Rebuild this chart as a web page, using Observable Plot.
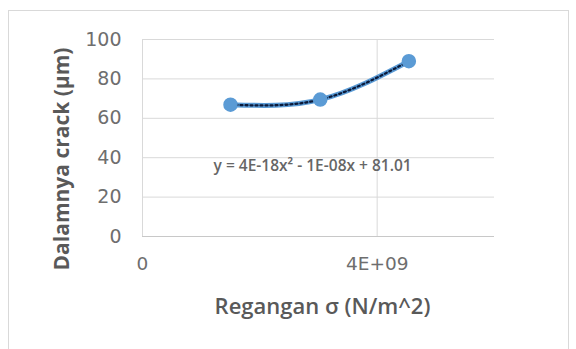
<!DOCTYPE html>
<html><head>
<meta charset="utf-8">
<script src="https://cdn.jsdelivr.net/npm/d3@7"></script>
<script src="https://cdn.jsdelivr.net/npm/@observablehq/plot@0.6"></script>
<style>
body{margin:0;background:#fff;}
#wrap{position:relative;width:576px;height:349px;overflow:hidden;background:#fff;}
#border{position:absolute;left:8px;top:10px;width:561px;height:400px;border:1px solid #d9d9d9;box-sizing:border-box;pointer-events:none;}
svg{position:absolute;left:0;top:0;}
</style></head><body><div id="wrap"><div id="border"></div></div>
<script>
const stress = [1.5e9, 3.03e9, 4.54e9];
const depth = [66.9, 69.5, 89.0];
const yTicks = [0, 20, 40, 60, 80, 100];
const xTicks = [0, 4e9];
const xTickLabels = ["0", "4E+09"];
const equation = "y = 4E-18x\u00B2 - 1E-08x + 81.01";
const equationPos = {x: 2.9e9, y: 36};
const xLabel = "Regangan \u03C3 (N/m^2)";
const yLabel = "Dalamnya crack (\u00B5m)";

const data = stress.map((x, i) => ({x, y: depth[i]}));
const gray = "#595959";
const font = "'Open Sans', sans-serif";
const tickFont = "'DejaVu Sans', sans-serif";

const chart = Plot.plot({
  width: 576, height: 349,
  marginLeft: 142, marginRight: 82, marginTop: 39, marginBottom: 113,
  style: {fontFamily: font, background: "transparent", overflow: "visible"},
  x: {domain: [0, 6e9]},
  y: {domain: [0, 100]},
  marks: [
    Plot.gridY(yTicks, {stroke: "#d9d9d9", strokeOpacity: 1}),
    Plot.gridX(xTicks, {stroke: "#d9d9d9", strokeOpacity: 1}),
    Plot.ruleY([0], {stroke: "#c8c8c8"}),
    Plot.axisY(yTicks, {tickSize: 0, tickPadding: 21, fontSize: 19, fill: "#6e6e6e", fontFamily: tickFont, label: null}),
    Plot.axisX(xTicks, {tickSize: 0, tickPadding: 20, fontSize: 18.5, fill: "#6e6e6e", fontFamily: tickFont, label: null,
      tickFormat: (d) => xTickLabels[xTicks.indexOf(d)]}),
    Plot.line(data, {x: "x", y: "y", curve: "natural", stroke: "#5b9bd5", strokeWidth: 5}),
    Plot.line(data, {x: "x", y: "y", curve: "natural", stroke: "#0b1a3a", strokeWidth: 2.3, strokeDasharray: "2,3"}),
    Plot.dot(data, {x: "x", y: "y", r: 6.5, fill: "#5b9bd5", stroke: "#5b9bd5"}),
    Plot.text([equation], {x: () => equationPos.x, y: () => equationPos.y, text: d => d,
      fontSize: 15.5, fontWeight: 600, fill: "#666"}),
    Plot.text([yLabel], {frameAnchor: "left", textAnchor: "middle", lineAnchor: "middle", text: d => d, rotate: -90, dx: -80, dy: 21,
      fontSize: 21, fontWeight: 700, fill: gray}),
    Plot.text([xLabel], {frameAnchor: "bottom", textAnchor: "middle", lineAnchor: "middle", text: d => d, dx: 4, dy: 70,
      fontSize: 22, fontWeight: 600, fill: gray})
  ]
});
document.getElementById("wrap").prepend(chart);
</script>
</body></html>
